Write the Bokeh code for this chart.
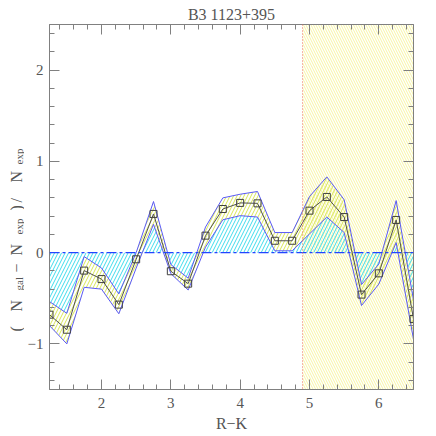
import numpy as np
from bokeh.plotting import figure
from bokeh.layouts import row
from bokeh.models import (Range1d, LinearAxis, SingleIntervalTicker, Span, BoxAnnotation,
                          CustomJSTickFormatter)
from bokeh.core.properties import value
from bokeh.embed import file_html
from bokeh.resources import INLINE

# ---- data ----
rk = [1.25, 1.5, 1.75, 2.0, 2.25, 2.5, 2.75, 3.0, 3.25, 3.5, 3.75,
      4.0, 4.25, 4.5, 4.75, 5.0, 5.25, 5.5, 5.75, 6.0, 6.25, 6.5]
excess = [-0.68, -0.845, -0.197, -0.29, -0.57, -0.073, 0.424, -0.204, -0.34, 0.186, 0.478,
          0.545, 0.54, 0.13, 0.13, 0.46, 0.61, 0.39, -0.46, -0.227, 0.358, -0.727]
upper = [-0.537, -0.665, -0.044, -0.168, -0.453, 0.0, 0.56, -0.13, -0.28, 0.28, 0.60,
         0.64, 0.67, 0.22, 0.22, 0.615, 0.83, 0.58, -0.35, -0.125, 0.57, -0.52]
lower = [-0.80, -1.0, -0.38, -0.40, -0.67, -0.17, 0.31, -0.23, -0.41, 0.06, 0.36,
         0.405, 0.39, 0.02, 0.02, 0.205, 0.39, 0.22, -0.58, -0.345, 0.11, -0.95]
x_limit = 4.9
title_text = "B3 1123+395"
x_label = "R\u2212K"
ylab_main = ["(", "N", "\u2212", "N", ")", "/", "N"]
ylab_sub = ["gal", "exp", "exp"]

FONT = "Liberation Serif"
GREY = "#808080"
TXT = "#555555"
LAB_W = 24          # narrow panel that carries the y-axis title
FRAME_TOP, FRAME_BOTTOM = 24, 389   # page rows of the plot frame


def clipped(xv, yv, sign):
    """Outline of yv clipped to one side of zero, with the zero crossings added."""
    xv = np.asarray(xv, float)
    yv = np.asarray(yv, float)
    xs, ys = [], []
    for i in range(len(xv)):
        if i > 0:
            y0, y1 = yv[i - 1], yv[i]
            if (y0 > 0 and y1 < 0) or (y0 < 0 and y1 > 0):
                t = y0 / (y0 - y1)
                xs.append(xv[i - 1] + t * (xv[i] - xv[i - 1]))
                ys.append(0.0)
        xs.append(xv[i])
        ys.append(max(yv[i], 0.0) if sign > 0 else min(yv[i], 0.0))
    return xs, ys


p = figure(width=436 - LAB_W, height=436, output_backend="svg", toolbar_location=None,
           x_range=Range1d(1.25, 6.5), y_range=Range1d(-1.5, 2.5),
           min_border_left=47 - LAB_W, min_border_right=23, min_border_top=FRAME_TOP,
           min_border_bottom=436 - FRAME_BOTTOM, x_axis_type=None, y_axis_type=None)
p.background_fill_color = "white"
p.border_fill_color = "white"
p.outline_line_color = GREY
p.xgrid.visible = False
p.ygrid.visible = False

p.title.text = title_text
p.title.align = "center"
p.title.offset = -6
p.title.standoff = 3
p.title.text_font = FONT
p.title.text_font_size = "16px"
p.title.text_font_style = "normal"
p.title.text_color = TXT

fmt = CustomJSTickFormatter(code="return tick < 0 ? '\u2212' + Math.abs(tick) : String(tick);")


def make_axis(labels, standoff=8):
    ax = LinearAxis(ticker=SingleIntervalTicker(interval=1, num_minor_ticks=5))
    ax.axis_line_color = GREY
    ax.major_tick_line_color = GREY
    ax.minor_tick_line_color = GREY
    ax.major_tick_in = 10
    ax.major_tick_out = 0
    ax.minor_tick_in = 5
    ax.minor_tick_out = 0
    if labels:
        ax.formatter = fmt
        ax.major_label_text_font = FONT
        ax.major_label_text_font_size = "15px"
        ax.major_label_text_color = TXT
        ax.major_label_standoff = standoff
    else:
        ax.major_label_text_font_size = "1px"
        ax.major_label_text_color = None
        ax.major_label_standoff = 0
    return ax


xax = make_axis(True, 8)
xax.axis_label = x_label
xax.axis_label_text_font = FONT
xax.axis_label_text_font_size = "16px"
xax.axis_label_text_font_style = "normal"
xax.axis_label_text_color = TXT
xax.axis_label_standoff = 4
p.add_layout(xax, "below")
p.add_layout(make_axis(True, 6), "left")
p.add_layout(make_axis(False), "above")
p.add_layout(make_axis(False), "right")

# yellow hatched region beyond the limit
p.add_layout(BoxAnnotation(left=x_limit, fill_color=None, line_color=None,
                           hatch_pattern="\\", hatch_color="#f6f28c", hatch_scale=5,
                           hatch_weight=0.8, level="underlay"))

# cyan hatch between zero and the envelope
xs_p, ys_p = clipped(rk, lower, +1)
xs_n, ys_n = clipped(rk, upper, -1)
for xs_, ys_ in ((xs_p, ys_p), (xs_n, ys_n)):
    p.varea(x=xs_, y1=[0.0] * len(xs_), y2=ys_, fill_color=None,
            hatch_pattern="/", hatch_color="#40dcec", hatch_scale=7, hatch_weight=1)

# yellow hatched envelope
p.varea(x=rk, y1=lower, y2=upper, fill_color=None,
        hatch_pattern="/", hatch_color="#d8e658", hatch_scale=7, hatch_weight=1)

p.line(rk, upper, line_color="#5a5af5", line_width=1)
p.line(rk, lower, line_color="#5a5af5", line_width=1)

p.add_layout(Span(location=0, dimension="width", line_color="#2244ff", line_width=1.3,
                  line_dash="10 3 3 3"))
p.add_layout(Span(location=x_limit, dimension="height", line_color="#ee6a5a", line_width=1,
                  line_dash="1 2"))

p.line(rk, excess, line_color="#505050", line_width=1)
p.scatter(rk, excess, marker="square", size=7, fill_color=None, line_color="#404040",
          line_width=1)

# narrow panel on the left with the rotated y-axis title; its frame is aligned
# with the main frame, so its y range is expressed in page rows
lf = figure(width=LAB_W, height=436, output_backend="svg", toolbar_location=None,
            x_range=Range1d(0, LAB_W), y_range=Range1d(FRAME_BOTTOM, FRAME_TOP),
            min_border_left=0, min_border_right=0, min_border_top=FRAME_TOP,
            min_border_bottom=436 - FRAME_BOTTOM, x_axis_type=None, y_axis_type=None)
lf.outline_line_color = None
lf.xgrid.visible = False
lf.ygrid.visible = False
lf.background_fill_color = "white"
lf.border_fill_color = "white"

main_pos = [331, 311, 272, 255, 210, 202, 182]
sub_pos = [290, 234, 164]
lf.text(x=[16] * len(ylab_main), y=main_pos, text=ylab_main, angle=np.pi / 2,
        text_font=value(FONT), text_font_size="16px", text_color=TXT,
        text_align="left", text_baseline="alphabetic")
lf.text(x=[18.8] * len(ylab_sub), y=sub_pos, text=ylab_sub, angle=np.pi / 2,
        text_font=value(FONT), text_font_size="11px", text_color=TXT,
        text_align="left", text_baseline="alphabetic")

page = row(lf, p)
open("out.html", "w").write(file_html(page, INLINE))
